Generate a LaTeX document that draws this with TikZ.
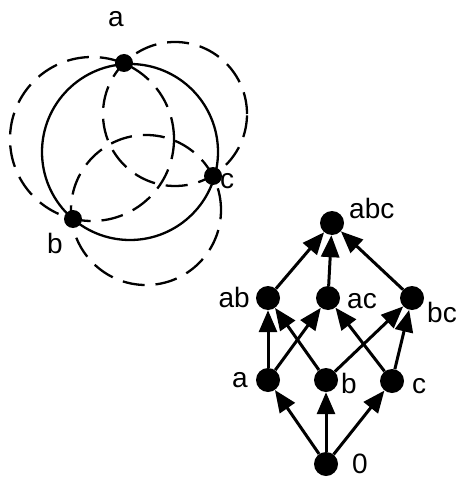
\documentclass[tikz,border=0pt]{standalone}
\usepackage{fontspec}
\setmainfont{Liberation Sans}
\usetikzlibrary{arrows.meta}
\begin{document}
\begin{tikzpicture}[x=1pt,y=-1pt,
 lbl/.style={anchor=base west, inner sep=0pt, font=\fontsize{28}{30}\selectfont},
 pt/.style={circle, fill=black, inner sep=0pt, minimum size=18pt},
 lat/.style={circle, fill=black, inner sep=0pt, minimum size=24pt},
 dsh/.style={line width=2.3pt, dash pattern=on 22pt off 11pt},
 sol/.style={line width=2.3pt},
 arr/.style={line width=3pt, -{Triangle[length=22pt,width=18pt]}}]
\useasboundingbox (0,0) rectangle (458,478);
% circle picture
\draw[sol] (130,152) circle[radius=88pt];
\draw[dsh] (92,139) circle[radius=82pt];
\draw[dsh] (175,114) circle[radius=72pt];
\draw[dsh] (146,210) circle[radius=75pt];
\node[pt] (pa) at (124,63) {};
\node[pt] (pc) at (213,176) {};
\node[pt] (pb) at (73,219) {};
\node[lbl] (la) at (108,27) {a};
\node[lbl] (lc) at (220,188) {c};
\node[lbl] (lb) at (47,253) {b};
% lattice
\node[lat] (abc) at (332,223) {};
\node[lat] (ab) at (268,298) {};
\node[lat] (ac) at (328,298) {};
\node[lat] (bc) at (412,298) {};
\node[lat] (a) at (268,380) {};
\node[lat] (b) at (326,380) {};
\node[lat] (c) at (392,381) {};
\node[lat] (z) at (326,464) {};
\node[lbl] (tabc) at (349,218) {abc};
\node[lbl, anchor=base east] (tab) at (250,307) {ab};
\node[lbl] (tac) at (347,308) {ac};
\node[lbl] (tbc) at (427,322) {bc};
\node[lbl, anchor=base east] (ta) at (248,387) {a};
\node[lbl] (tb) at (341,393) {b};
\node[lbl] (tc) at (412,393) {c};
\node[lbl] (tz) at (352,473) {0};
\draw[arr] (z) -- (a);
\draw[arr] (z) -- (b);
\draw[arr] (z) -- (c);
\draw[arr] (a) -- (ab);
\draw[arr] (a) -- (ac);
\draw[arr] (b) -- (ab);
\draw[arr] (b) -- (bc);
\draw[arr] (c) -- (ac);
\draw[arr] (c) -- (bc);
\draw[arr] (ab) -- (abc);
\draw[arr] (ac) -- (abc);
\draw[arr] (bc) -- (abc);
\end{tikzpicture}
\end{document}
